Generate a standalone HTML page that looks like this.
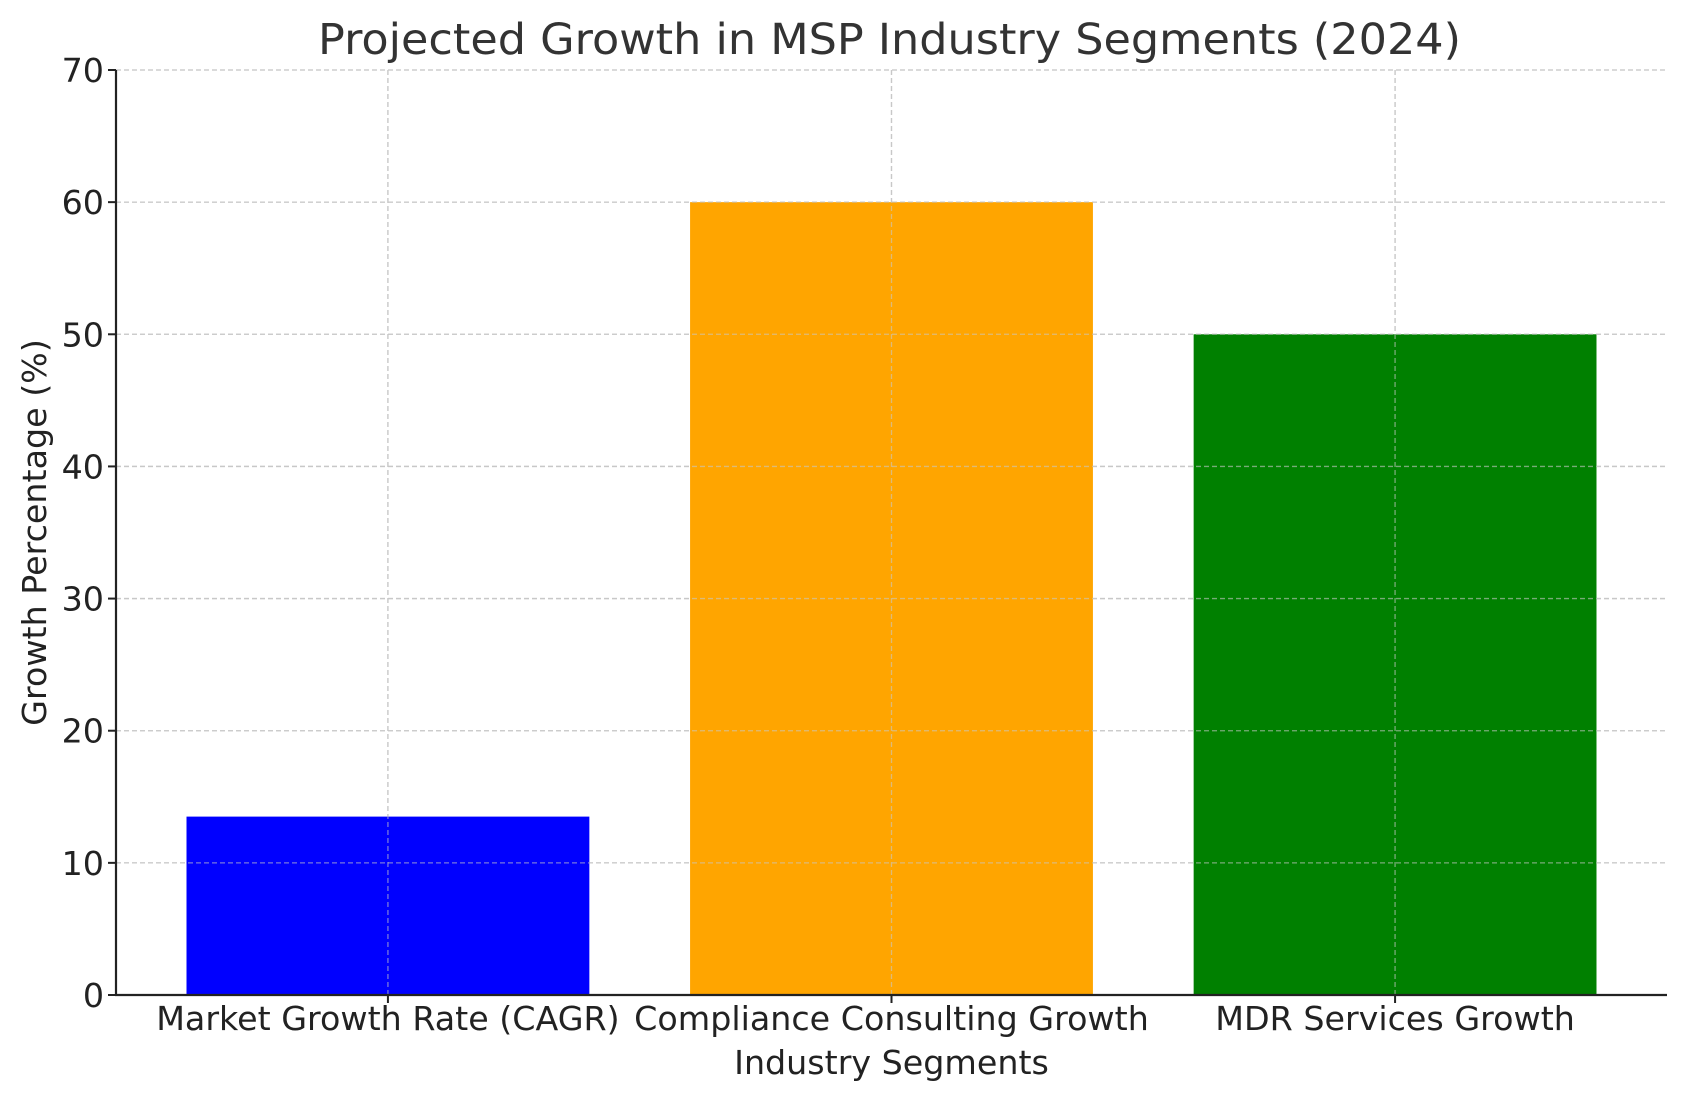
<!DOCTYPE html>
<html><head><meta charset="utf-8"><style>html,body{margin:0;padding:0;background:#fff}svg{display:block}</style></head>
<body>
<svg id="chart" width="1686" height="1101" xmlns="http://www.w3.org/2000/svg" font-family="'DejaVu Sans','Liberation Sans',sans-serif"></svg>
<script>
const categories = ["Market Growth Rate (CAGR)", "Compliance Consulting Growth", "MDR Services Growth"];
const values = [13.5, 60, 50];
const colors = ["#0000ff", "#ffa500", "#008000"];
const yTicks = [0, 10, 20, 30, 40, 50, 60, 70];

const svg = document.getElementById('chart');
const NS = 'http://www.w3.org/2000/svg';
const L = 116, R = 1667, T = 70, B = 995;
const yMin = 0, yMax = 70;
const xMin = -0.54, xMax = categories.length - 1 + 0.54;
const y = v => B - (v - yMin) / (yMax - yMin) * (B - T);
const x = i => L + (i - xMin) / (xMax - xMin) * (R - L);
const unit = (R - L) / (xMax - xMin);

function mk(tag, attrs, text) {
  const e = document.createElementNS(NS, tag);
  for (const k in attrs) e.setAttribute(k, attrs[k]);
  if (text !== undefined) e.textContent = text;
  svg.appendChild(e);
  return e;
}

yTicks.forEach(t => {
  const g = mk('line', {x1: L, x2: R, y1: y(t), y2: y(t), stroke: '#c8c8c8', 'stroke-width': 1.3, 'stroke-dasharray': '5,3'});
  
  
});
categories.forEach((c, i) => {
  const g = mk('line', {x1: x(i), x2: x(i), y1: T, y2: B, stroke: '#c8c8c8', 'stroke-width': 1.3, 'stroke-dasharray': '5,3'});
  
  
});

categories.forEach((c, i) => {
  const w = 0.8 * unit;
  const b = mk('rect', {x: x(i) - w / 2, y: y(values[i]), width: w, height: y(0) - y(values[i]), fill: colors[i]});
  
  
});

categories.forEach((c, i) => {
  const g = mk('line', {x1: x(i), x2: x(i), y1: T, y2: B, stroke: '#c8c8c8', 'stroke-width': 1.3, 'stroke-dasharray': '5,3', opacity: 0.6});
  
  
});
yTicks.forEach(t => {
  const g = mk('line', {x1: L, x2: R, y1: y(t), y2: y(t), stroke: '#c8c8c8', 'stroke-width': 1.3, 'stroke-dasharray': '5,3', opacity: 0.6});
  
  
});

const ya = mk('line', {x1: L, x2: L, y1: T, y2: B + 1, stroke: '#222', 'stroke-width': 2.2});


const xa = mk('line', {x1: L - 1, x2: R, y1: B, y2: B, stroke: '#222', 'stroke-width': 2.2});



yTicks.forEach(t => {
  const tk = mk('line', {x1: L - 8, x2: L, y1: y(t), y2: y(t), stroke: '#222', 'stroke-width': 2});
  
  
  const lb = mk('text', {x: L - 12, y: y(t) + 12, 'text-anchor': 'end', 'font-size': 33.3, fill: '#222'}, t);
  
  
});
categories.forEach((c, i) => {
  const tk = mk('line', {x1: x(i), x2: x(i), y1: B, y2: B + 8, stroke: '#222', 'stroke-width': 2});
  
  
  const lb = mk('text', {x: x(i), y: B + 35, 'text-anchor': 'middle', 'font-size': 33.3, fill: '#222'}, c);
  
  
});

const xt = mk('text', {x: (L + R) / 2, y: B + 79, 'text-anchor': 'middle', 'font-size': 33.3, fill: '#222'}, 'Industry Segments');


const yt = mk('text', {x: 0, y: 0, 'text-anchor': 'middle', 'font-size': 33.3, fill: '#222', transform: 'translate(46,' + ((T + B) / 2) + ') rotate(-90)'}, 'Growth Percentage (%)');


const tt = mk('text', {x: (L + R) / 2 - 2, y: 54, 'text-anchor': 'middle', 'font-size': 43, fill: '#333', textLength: 1143, lengthAdjust: 'spacingAndGlyphs'}, 'Projected Growth in MSP Industry Segments (2024)');


</script>
</body></html>
